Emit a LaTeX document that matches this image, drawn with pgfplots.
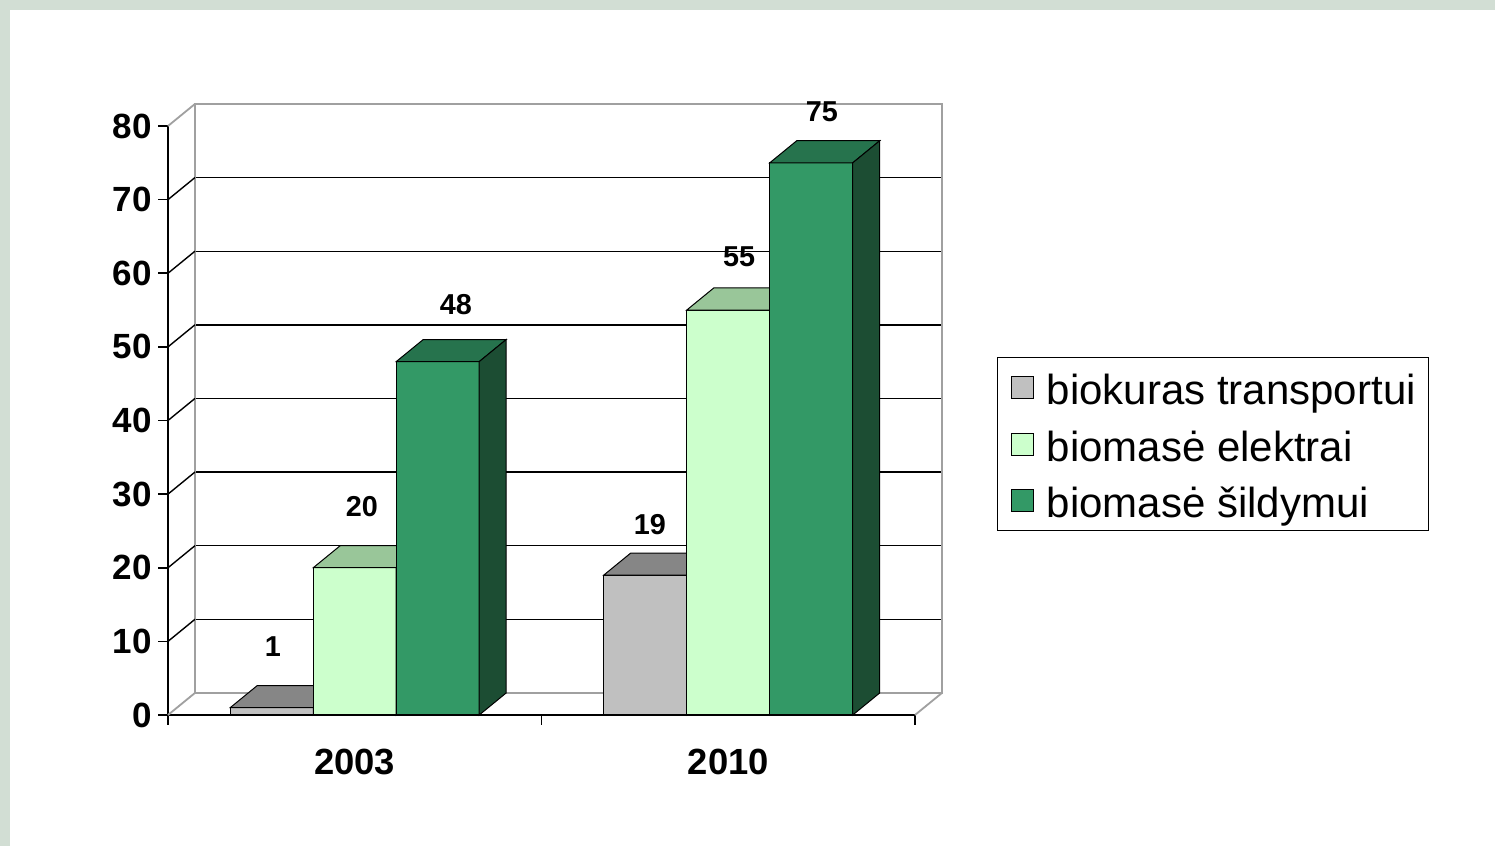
\documentclass[border=0pt]{standalone}
\usepackage{fontspec}
\setmainfont{Liberation Sans}
\usepackage{pgfplots}
\pgfplotsset{compat=1.18}
\definecolor{frame}{HTML}{D2DED4}
\definecolor{grayfront}{HTML}{C0C0C0}
\definecolor{graytop}{HTML}{868686}
\definecolor{grayside}{HTML}{606060}
\definecolor{lightfront}{HTML}{CCFFCC}
\definecolor{lighttop}{HTML}{99C699}
\definecolor{lightside}{HTML}{668566}
\definecolor{darkfront}{HTML}{339966}
\definecolor{darktop}{HTML}{26734D}
\definecolor{darkside}{HTML}{1C4D33}
\definecolor{wall}{HTML}{A0A0A0}
\pgfplotsset{sqlegend/.style={legend image code/.code={\draw[##1,draw=black,line width=0.6pt] (0pt,-5.5pt) rectangle (11pt,5.5pt);}}}
\begin{document}
\begin{tikzpicture}
\useasboundingbox (0,0) rectangle (747.5pt,423pt);
\fill[white] (0,0) rectangle (747.5pt,423pt);
\fill[frame] (0,418pt) rectangle (747.5pt,423pt);
\fill[frame] (0,0) rectangle (5pt,423pt);
% back wall
\begin{axis}[at={(97.5pt,76.5pt)}, anchor=south west, scale only axis,
  width=373.5pt, height=294.5pt,
  xmin=0, xmax=2, ymin=0, ymax=80,
  xtick=\empty, ytick={10,20,...,70}, yticklabels={}, major tick length=0pt,
  ymajorgrids, grid style={black, line width=0.7pt},
  axis line style={wall, line width=0.9pt}]
\end{axis}
% front
\begin{axis}[at={(84pt,65.5pt)}, anchor=south west, scale only axis,
  width=373.5pt, height=294.5pt,
  xmin=0, xmax=2, ymin=0, ymax=80, clip=false,
  axis x line=bottom, axis y line=left,
  axis line style={-, black, line width=0.8pt},
  tick align=outside, tick style={black, line width=0.8pt},
  major tick length=5pt,
  ytick={0,10,...,80},
  xtick={0,1,2}, xticklabels={},
  extra x ticks={0.5,1.5}, extra x tick labels={2003,2010},
  extra x tick style={major tick length=0pt},
  /pgf/number format/assume math mode=true,
  yticklabel style={font=\bfseries\fontsize{17.5}{20}\selectfont, inner sep=3pt},
  xticklabel style={font=\bfseries\fontsize{18.2}{21}\selectfont, inner sep=0pt, yshift=-17pt},
  legend style={at={(1.1098,0.6078)}, anchor=north west, draw=black, line width=0.7pt,
    font=\fontsize{21}{25}\selectfont, inner xsep=6.5pt, inner ysep=4pt, row sep=6.25pt,
    column sep=6.5pt,
    nodes={inner xsep=0pt, inner ysep=2pt, text height=17.5pt, text depth=0.5pt}},
  legend cell align=left]

% side wall and floor edges
\draw[wall, line width=0.9pt] (axis cs:0,0) -- (axis cs:0.0723,3);
\draw[wall, line width=0.9pt] (axis cs:0,80) -- (axis cs:0.0723,83);
\draw[wall, line width=0.9pt] (axis cs:2,0) -- (axis cs:2.0723,3);
\draw[black, line width=0.7pt] (axis cs:0,10) -- (axis cs:0.0723,13);
\draw[black, line width=0.7pt] (axis cs:0,20) -- (axis cs:0.0723,23);
\draw[black, line width=0.7pt] (axis cs:0,30) -- (axis cs:0.0723,33);
\draw[black, line width=0.7pt] (axis cs:0,40) -- (axis cs:0.0723,43);
\draw[black, line width=0.7pt] (axis cs:0,50) -- (axis cs:0.0723,53);
\draw[black, line width=0.7pt] (axis cs:0,60) -- (axis cs:0.0723,63);
\draw[black, line width=0.7pt] (axis cs:0,70) -- (axis cs:0.0723,73);

% biokuras transportui
\addplot[ybar, bar width=41.5pt, bar shift=-41.5pt, fill=grayfront, draw=black, line width=0.5pt, sqlegend]
  coordinates {(0.5,1) (1.5,19)};
\addlegendentry{biokuras transportui}
\addplot[fill=graytop, draw=black, line width=0.5pt, forget plot]
  coordinates {(0.1667,1) (0.3889,1) (0.4612,4) (0.2390,4)} -- cycle;
\addplot[fill=grayside, draw=black, line width=0.5pt, forget plot]
  coordinates {(0.3889,0) (0.4612,3) (0.4612,4) (0.3889,1)} -- cycle;
\addplot[fill=graytop, draw=black, line width=0.5pt, forget plot]
  coordinates {(1.1667,19) (1.3889,19) (1.4612,22) (1.2390,22)} -- cycle;
\addplot[fill=grayside, draw=black, line width=0.5pt, forget plot]
  coordinates {(1.3889,0) (1.4612,3) (1.4612,22) (1.3889,19)} -- cycle;

% biomase elektrai
\addplot[ybar, bar width=41.5pt, bar shift=0pt, fill=lightfront, draw=black, line width=0.5pt, sqlegend]
  coordinates {(0.5,20) (1.5,55)};
\addlegendentry{biomasė elektrai}
\addplot[fill=lighttop, draw=black, line width=0.5pt, forget plot]
  coordinates {(0.3889,20) (0.6111,20) (0.6834,23) (0.4612,23)} -- cycle;
\addplot[fill=lightside, draw=black, line width=0.5pt, forget plot]
  coordinates {(0.6111,0) (0.6834,3) (0.6834,23) (0.6111,20)} -- cycle;
\addplot[fill=lighttop, draw=black, line width=0.5pt, forget plot]
  coordinates {(1.3889,55) (1.6111,55) (1.6834,58) (1.4612,58)} -- cycle;
\addplot[fill=lightside, draw=black, line width=0.5pt, forget plot]
  coordinates {(1.6111,0) (1.6834,3) (1.6834,58) (1.6111,55)} -- cycle;

% biomase sildymui
\addplot[ybar, bar width=41.5pt, bar shift=41.5pt, fill=darkfront, draw=black, line width=0.5pt, sqlegend]
  coordinates {(0.5,48) (1.5,75)};
\addlegendentry{biomasė šildymui}
\addplot[fill=darktop, draw=black, line width=0.5pt, forget plot]
  coordinates {(0.6111,48) (0.8333,48) (0.9056,51) (0.6834,51)} -- cycle;
\addplot[fill=darkside, draw=black, line width=0.5pt, forget plot]
  coordinates {(0.8333,0) (0.9056,3) (0.9056,51) (0.8333,48)} -- cycle;
\addplot[fill=darktop, draw=black, line width=0.5pt, forget plot]
  coordinates {(1.6111,75) (1.8333,75) (1.9056,78) (1.6834,78)} -- cycle;
\addplot[fill=darkside, draw=black, line width=0.5pt, forget plot]
  coordinates {(1.8333,0) (1.9056,3) (1.9056,78) (1.8333,75)} -- cycle;

% value labels
\addplot[only marks, mark=none, forget plot, nodes near coords, point meta=explicit symbolic,
  every node near coord/.append style={anchor=center, inner sep=0pt, font=\bfseries\fontsize{14.4}{17}\selectfont}]
  coordinates {(0.281,9.24)[1] (0.519,28.25)[20] (0.771,55.7)[48] (1.290,25.8)[19] (1.529,62.3)[55] (1.751,81.9)[75]};
\end{axis}
\end{tikzpicture}
\end{document}
